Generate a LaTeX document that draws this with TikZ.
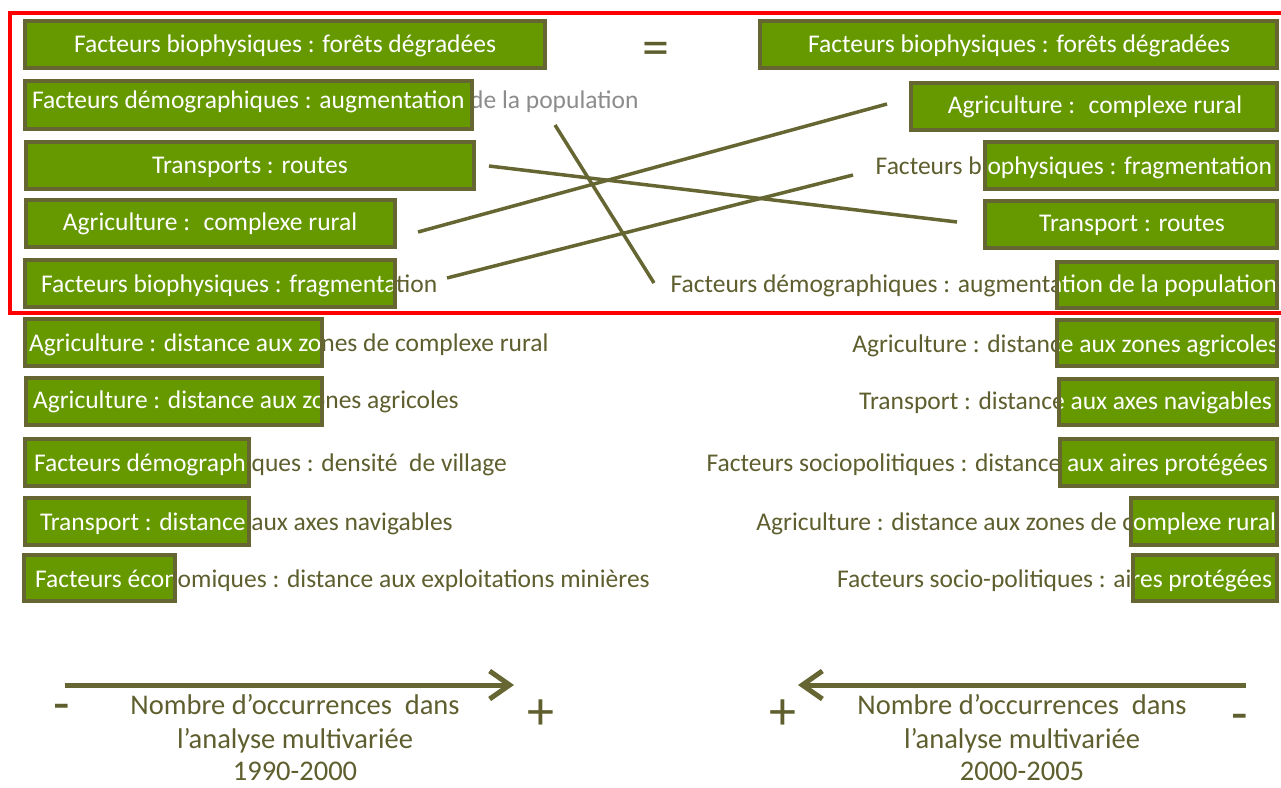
\documentclass[tikz,border=0pt]{standalone}
\usepackage{fontspec}
\setmainfont{Carlito}
\usetikzlibrary{arrows.meta,fit}
\definecolor{gfill}{RGB}{102,153,0}
\definecolor{gborder}{RGB}{102,102,51}
\definecolor{otext}{RGB}{94,94,46}
\definecolor{gtext}{RGB}{140,140,140}
\tikzset{
  boxfill/.style={fill=gfill, inner sep=0pt, outer sep=0pt},
  boxline/.style={draw=gborder, line width=4pt},
  lab/.style={inner sep=0pt, outer sep=0pt, font=\fontsize{25.5}{30}\selectfont},
  link/.style={draw=gborder, line width=3.5pt},
  bigarrow/.style={draw=gborder, line width=5pt, -{Straight Barb[length=20pt,width=28pt]}},
  sign/.style={text=otext, inner sep=0pt, font=\fontsize{54}{56}\selectfont},
  axistxt/.style={text=otext, inner sep=0pt, font=\fontsize{28.5}{34}\selectfont, anchor=base},
}
% #1 name, #2 corner, #3 corner, #4 anchor, #5 text position, #6 text, #7 colour outside the box
\newcommand\splitbox[7]{%
  \node[lab, text=#7, anchor=#4] (#1t) at #5 {#6};
  \node[boxfill, fit={#2 #3}] (#1) {};
  \begin{scope}
    \clip (#1.south west) rectangle (#1.north east);
    \node[lab, text=white, anchor=#4] (#1w) at #5 {#6};
  \end{scope}
  \draw[boxline] (#1.south west) rectangle (#1.north east);
}
\begin{document}
\begin{tikzpicture}[x=1pt,y=-1pt]
\useasboundingbox[fill=white] (0,0) rectangle (1281,787);
% red frame
\draw[red, line width=4pt] (10,13) rectangle (1300,312.5);

% left column
\splitbox{L1}{(25,21)}{(545,68)}{base}{(285,52)}{Facteurs biophysiques : forêts dégradées}{otext}
\splitbox{L2}{(25,81)}{(472,129)}{base west}{(32,108)}{Facteurs démographiques : augmentation de la population}{gtext}
\splitbox{L3}{(26,142)}{(474,189)}{base}{(250,173)}{Transports : routes}{otext}
\splitbox{L4}{(26,200)}{(395,247)}{base}{(210,230)}{Agriculture :~ complexe rural}{otext}
\splitbox{L5}{(25,260)}{(395,307)}{base west}{(41,292)}{Facteurs biophysiques : fragmentation}{otext}
\splitbox{L6}{(25,319)}{(322,366)}{base west}{(29,351)}{Agriculture : distance aux zones de complexe rural}{otext}
\splitbox{L7}{(26,378)}{(322,425)}{base west}{(33,408)}{Agriculture : distance aux zones agricoles}{otext}
\splitbox{L8}{(25,439)}{(249,486)}{base west}{(34,471)}{Facteurs démographiques : densité~ de village}{otext}
\splitbox{L9}{(25,498)}{(249,545)}{base west}{(40,530)}{Transport : distance aux axes navigables}{otext}
\splitbox{L10}{(24,555)}{(175,601)}{base west}{(35,587)}{Facteurs économiques : distance aux exploitations minières}{otext}

% right column
\splitbox{R1}{(760,21)}{(1277,68)}{base}{(1019,52)}{Facteurs biophysiques : forêts dégradées}{otext}
\splitbox{R2}{(911,83)}{(1277,130)}{base}{(1095,113)}{Agriculture :~ complexe rural}{otext}
\splitbox{R3}{(985,142)}{(1277,189)}{base east}{(1272,174)}{Facteurs biophysiques : fragmentation}{otext}
\splitbox{R4}{(985,201)}{(1277,248)}{base}{(1132,231)}{Transport : routes}{otext}
\splitbox{R5}{(1057,262)}{(1277,308)}{base east}{(1277,292)}{Facteurs démographiques : augmentation de la population}{otext}
\splitbox{R6}{(1057,320)}{(1277,366)}{base east}{(1278,352)}{Agriculture : distance aux zones agricoles}{otext}
\splitbox{R7}{(1059,379)}{(1277,425)}{base east}{(1272,409)}{Transport : distance aux axes navigables}{otext}
\splitbox{R8}{(1060,439)}{(1277,486)}{base east}{(1268,471)}{Facteurs sociopolitiques : distance aux aires protégées}{otext}
\splitbox{R9}{(1131,498)}{(1277,545)}{base east}{(1276,530)}{Agriculture : distance aux zones de complexe rural}{otext}
\splitbox{R10}{(1133,555)}{(1277,601)}{base east}{(1272,587)}{Facteurs socio-politiques : aires protégées}{otext}

% equals sign
\node[sign] (eq) at (656,54) {=};

% connectors
\coordinate (k1a) at (555,125); \coordinate (k1b) at (654,283);
\coordinate (k2a) at (489,166); \coordinate (k2b) at (957,222);
\coordinate (k3a) at (418,232); \coordinate (k3b) at (887,104);
\coordinate (k4a) at (447,278); \coordinate (k4b) at (853,175);
\draw[link] (k1a) -- (k1b);
\draw[link] (k2a) -- (k2b);
\draw[link] (k3a) -- (k3b);
\draw[link] (k4a) -- (k4b);

% axes
\coordinate (a1s) at (65,685); \coordinate (a1e) at (514,685);
\coordinate (a2s) at (1246,685); \coordinate (a2e) at (798,685);
\draw[bigarrow] (a1s) -- (a1e);
\draw[bigarrow] (a2s) -- (a2e);

\node[sign] (m1) at (62,713) {-};
\node[sign] (p1) at (541,715) {+};
\node[sign] (p2) at (783,715) {+};
\node[sign] (m2) at (1240,723) {-};

\node[axistxt] (t1a) at (295,714) {Nombre d’occurrences~ dans};
\node[axistxt] (t1b) at (295,748) {l’analyse multivariée};
\node[axistxt] (t1c) at (295,780) {1990-2000};
\node[axistxt] (t2a) at (1022,714) {Nombre d’occurrences~ dans};
\node[axistxt] (t2b) at (1022,748) {l’analyse multivariée};
\node[axistxt] (t2c) at (1022,780) {2000-2005};
\end{tikzpicture}
\end{document}
